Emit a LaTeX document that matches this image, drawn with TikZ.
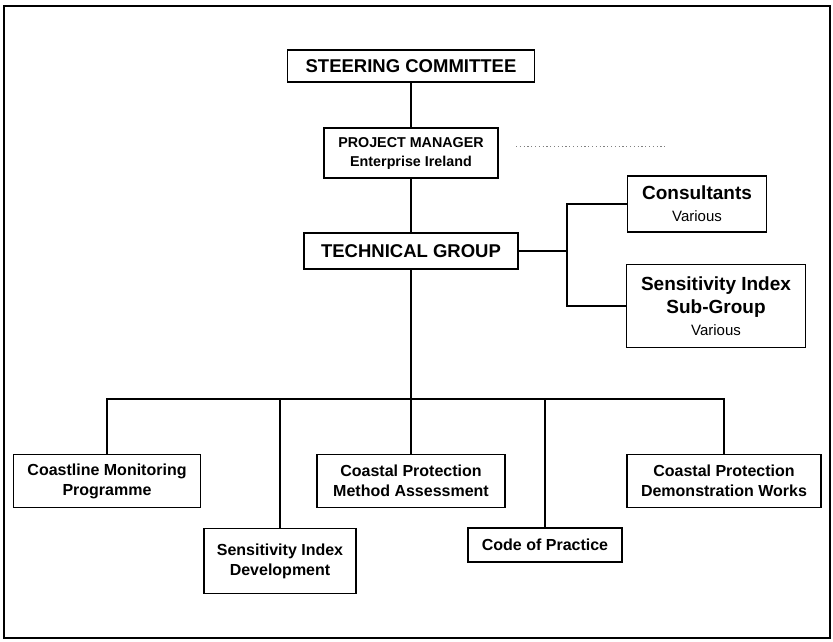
\documentclass[tikz,border=0pt]{standalone}
\usepackage{fontspec}
\setmainfont{Liberation Sans}
\usetikzlibrary{positioning}

\tikzset{
  orgbox/.style={draw, line width=1.3pt, align=center, inner sep=0pt},
  link/.style={line width=1.1pt},
}
\newcommand{\bigbf}{\bfseries\fontsize{18.5}{22}\selectfont}
\newcommand{\midbf}{\bfseries\fontsize{16}{20}\selectfont}
\newcommand{\sidebf}{\bfseries\fontsize{19}{23}\selectfont}
\newcommand{\smallrm}{\mdseries\fontsize{15}{18}\selectfont}

\begin{document}
\begin{tikzpicture}[x=1pt, y=-1pt]
  \useasboundingbox (0,0) rectangle (833,641);
  % Border
  \draw[line width=1.2pt] (4,6) rectangle (830,638);

  % Committee, manager, technical group
  \node[orgbox, minimum width=247pt, minimum height=32pt, font=\bigbf]
    (steer) at (411,66) {STEERING COMMITTEE};
  \node[orgbox, minimum width=174pt, minimum height=50pt,
    font=\bfseries\fontsize{14.3}{19}\selectfont]
    (pm) at (411,153) {PROJECT MANAGER\\Enterprise Ireland};
  \node[orgbox, minimum width=214pt, minimum height=36pt, font=\bigbf]
    (tech) at (411,251) {TECHNICAL GROUP};
  \coordinate (dotstart) at (516,146);
  \coordinate (dotend) at (667,146);
  \draw[gray, line width=0.8pt, dash pattern=on 1.2pt off 2.6pt]
    (dotstart) -- (dotend);
  \draw[link] (steer) -- (pm);
  \draw[link] (pm) -- (tech);

  % Side groups
  \node[orgbox, minimum width=139pt, minimum height=56pt, font=\sidebf]
    (cons) at (697,204) {Consultants\\[-1pt]{\smallrm Various}};
  \node[orgbox, minimum width=179pt, minimum height=83pt, font=\sidebf]
    (sisg) at (716,306) {Sensitivity Index\\Sub-Group\\[-1pt]{\smallrm Various}};
  \coordinate (fork) at (567,251);
  \draw[link] (tech.east) -- (fork);
  \draw[link] (cons.west) -| (fork) |- (sisg.west);

  % Work packages
  \node[orgbox, minimum width=187pt, minimum height=53pt, font=\midbf]
    (cmp) at (107,481) {Coastline Monitoring\\Programme};
  \node[orgbox, minimum width=152pt, minimum height=65pt, font=\midbf]
    (sid) at (280,561) {Sensitivity Index\\Development};
  \node[orgbox, minimum width=188pt, minimum height=53pt, font=\midbf]
    (cpma) at (411,481) {Coastal Protection\\Method Assessment};
  \node[orgbox, minimum width=154pt, minimum height=34pt, font=\midbf]
    (cop) at (545,545) {Code of Practice};
  \node[orgbox, minimum width=194pt, minimum height=53pt, font=\midbf]
    (cpdw) at (724,481) {Coastal Protection\\Demonstration Works};

  % Bus line
  \coordinate (bus) at (0,399);
  \draw[link] (tech) -- (cpma);
  \draw[link] (cmp.north) |- (bus -| cpdw.north) -- (cpdw.north);
  \draw[link] (sid.north) -- (sid.north |- bus);
  \draw[link] (cop.north) -- (cop.north |- bus);
\end{tikzpicture}
\end{document}
